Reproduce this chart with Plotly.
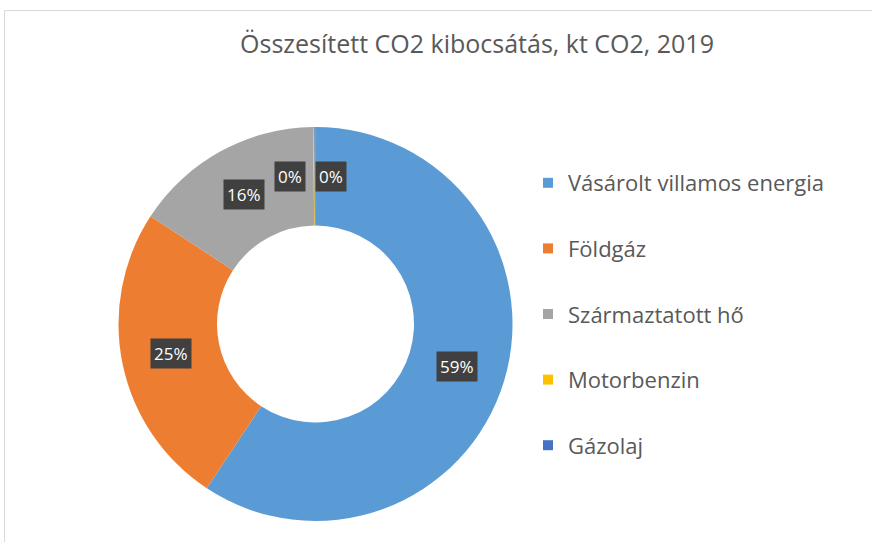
import math
import plotly.graph_objects as go

# ---- data ----
categories = ["Vásárolt villamos energia", "Földgáz", "Származtatott hő", "Motorbenzin", "Gázolaj"]
values = [59.3, 24.9, 15.6, 0.1, 0.1]
colors = ["#5B9BD5", "#ED7D31", "#A5A5A5", "#FFC000", "#4472C4"]
title_text = "Összesített CO2 kibocsátás, kt CO2, 2019"

# ---- layout constants (pixels) ----
W, H = 872, 542
CX, CY = 315.5, 324.0        # pie centre (from top-left)
R_OUT = 197.0
HOLE = 0.5
LABEL_NUDGE = {3: -24, 4: 16}  # spread overlapping tiny-slice labels (px)
FONT = "Open Sans"

fig = go.Figure()

fig.add_trace(go.Pie(
    labels=categories,
    values=values,
    marker=dict(colors=colors, line=dict(width=0)),
    hole=HOLE,
    sort=False,
    direction="clockwise",
    rotation=0,
    textinfo="none",
    hoverinfo="label+percent",
    showlegend=False,
    domain=dict(
        x=[(CX - R_OUT) / W, (CX + R_OUT) / W],
        y=[(H - CY - R_OUT) / H, (H - CY + R_OUT) / H],
    ),
))

# legend via dummy traces (allows Excel-like spacing)
for cat, col in zip(categories, colors):
    fig.add_trace(go.Scatter(
        x=[None], y=[None], mode="markers", name=cat, legendgroup=cat,
        marker=dict(symbol="square", size=10, color=col),
    ))

# data labels computed from the values
total = sum(values)
r_mid = R_OUT * (1 + HOLE) / 2
cum = 0.0
annotations = []
for i, v in enumerate(values):
    frac_mid = (cum + v / 2) / total
    cum += v
    ang = 2 * math.pi * frac_mid
    px = CX + r_mid * math.sin(ang) + LABEL_NUDGE.get(i, 0)
    py = CY - r_mid * math.cos(ang)
    annotations.append(dict(
        x=px / W, y=1 - py / H, xref="paper", yref="paper",
        text=f"{round(100 * v / total)}%", showarrow=False,
        font=dict(family=FONT, size=17, color="white"),
        bgcolor="#404040", borderpad=3,
        xanchor="center", yanchor="middle",
    ))

fig.update_layout(
    width=W, height=H,
    margin=dict(l=0, r=0, t=0, b=0),
    paper_bgcolor="white", plot_bgcolor="white",
    title=dict(text=title_text, x=477 / W, xanchor="center",
               y=1 - 44 / H, yanchor="middle", yref="container",
               font=dict(family=FONT, size=25, color="#595959")),
    xaxis=dict(visible=False), yaxis=dict(visible=False),
    legend=dict(x=528 / W, xanchor="left", y=1 - 162 / H, yanchor="top",
                font=dict(family=FONT, size=22, color="#595959"),
                tracegroupgap=34, bgcolor="rgba(0,0,0,0)"),
    annotations=annotations,
    shapes=[dict(type="rect", xref="paper", yref="paper",
                 x0=4.5 / W, x1=1.05, y0=-0.05, y1=1 - 10.5 / H,
                 line=dict(color="#D9D9D9", width=1), layer="below")],
)

fig.write_html("out.html", config={"displayModeBar": False},
               post_script="document.body.style.margin='0';")
